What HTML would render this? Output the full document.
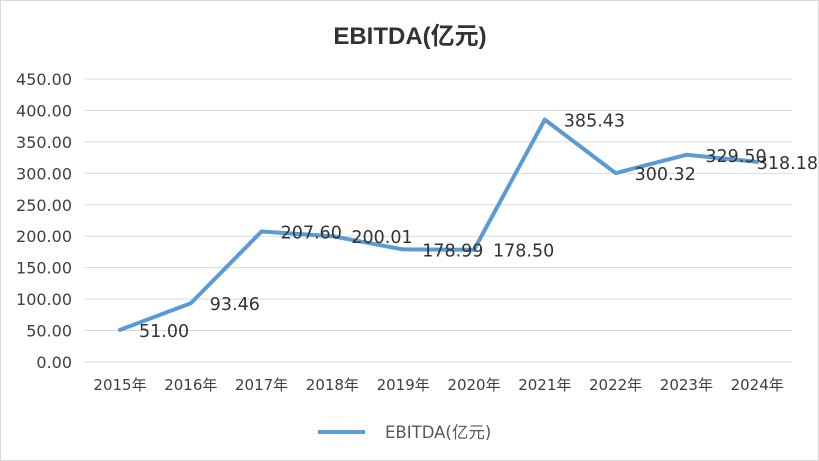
<!DOCTYPE html>
<html><head><meta charset="utf-8"><style>
html,body{margin:0;padding:0;background:#fff;}
svg{display:block;font-family:"DejaVu Sans","Noto Sans CJK SC",sans-serif;}
</style></head><body>
<svg id="chart" width="819" height="461">
<rect x="0.5" y="0.5" width="818" height="460" fill="#fff" stroke="#d9d9d9"/>
<text x="410" y="44" text-anchor="middle" font-size="24" font-weight="bold" fill="#333" font-family="Liberation Sans, Noto Sans CJK SC, sans-serif">EBITDA(亿元)</text>
<g id="grid"></g><g id="yticks"></g><g id="xticks"></g>
<polyline id="line" fill="none" stroke="#5b9bd5" stroke-width="4" stroke-linejoin="round" stroke-linecap="round"/>
<g id="labels"></g>
<line x1="318" y1="432" x2="365" y2="432" stroke="#5b9bd5" stroke-width="4"/>
<text x="385" y="438" font-size="16.5" fill="#595959">EBITDA(亿元)</text>
</svg>
<script>
const categories=["2015年","2016年","2017年","2018年","2019年","2020年","2021年","2022年","2023年","2024年"];
const values=[51.00,93.46,207.60,200.01,178.99,178.50,385.43,300.32,329.50,318.18];
const yTicks=[0,50,100,150,200,250,300,350,400,450];
const NS="http://www.w3.org/2000/svg";
const left=84.6,step=70.8,y0=362,ppu=(362-79)/450;
const xs=i=>left+step/2+i*step, ys=v=>y0-v*ppu;
function mk(tag,attrs,parent,text){const e=document.createElementNS(NS,tag);for(const k in attrs)e.setAttribute(k,attrs[k]);if(text!==undefined)e.textContent=text;document.getElementById(parent).appendChild(e);return e;}
yTicks.forEach(t=>{
 const g=mk('line',{x1:left,x2:left+step*10,y1:ys(t),y2:ys(t),stroke:'#d9d9d9','stroke-width':1},'grid');
 
 
 const l=mk('text',{x:72,y:ys(t)+6,'text-anchor':'end','font-size':16,fill:'#404040'},'yticks',t.toFixed(2));
 
 
});
categories.forEach((c,i)=>{
 const l=mk('text',{x:xs(i),y:390,'text-anchor':'middle','font-size':15,fill:'#404040'},'xticks',c);
 
 
});
document.getElementById('line').setAttribute('points',values.map((v,i)=>xs(i)+','+ys(v)).join(' '));
values.forEach((v,i)=>{
 const l=mk('text',{x:xs(i)+19,y:ys(v)+7,'font-size':17.5,fill:'#333'},'labels',v.toFixed(2));
 
 
 const w=l.getComputedTextLength();
 if(xs(i)+19+w>818) l.setAttribute('x',818-w);
});
</script>
</body></html>
